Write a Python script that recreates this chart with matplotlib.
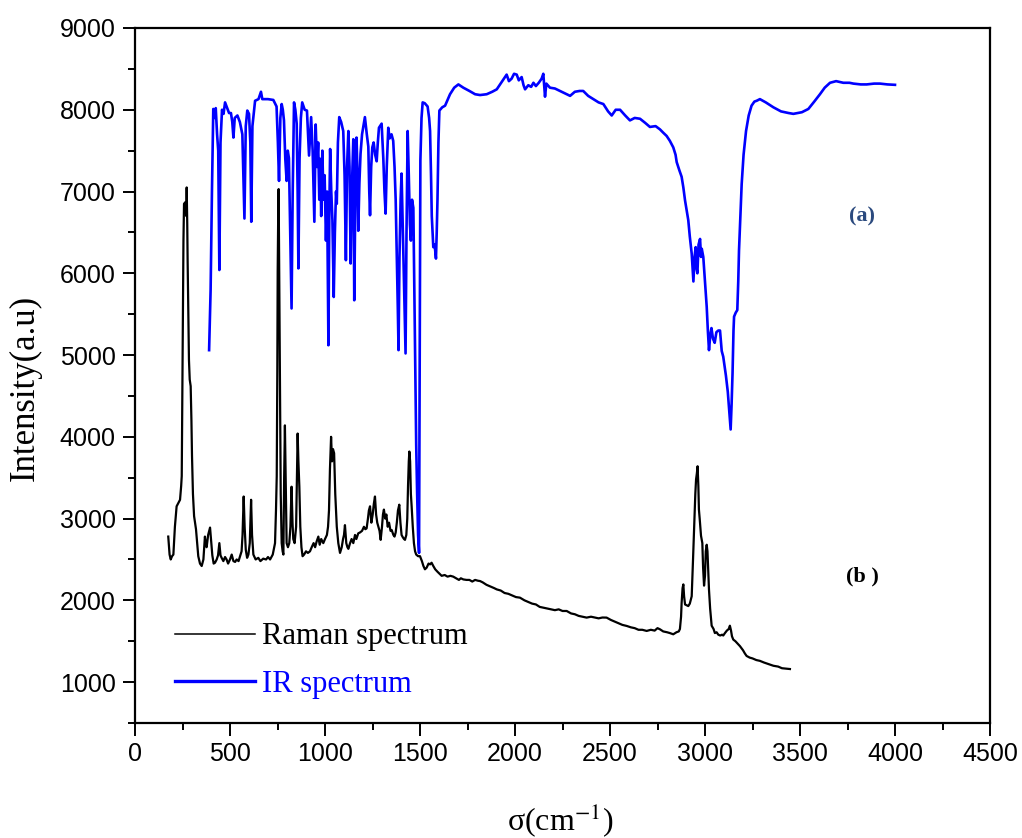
import matplotlib
matplotlib.use("Agg")
import matplotlib.pyplot as plt
from matplotlib.ticker import MultipleLocator

plt.rcParams['mathtext.fontset'] = 'stix'

# IR spectrum (a)
ir_x = [390, 398, 405, 412, 418, 425, 432, 438, 444, 450, 458, 466, 474, 485, 495, 505, 512, 518, 525, 539,
        552, 565, 576, 583, 591, 600, 607, 612, 618, 632, 650, 663, 670, 700, 728, 745, 752, 758, 765, 772,
        778, 784, 791, 798, 804, 810, 817, 824, 830, 837, 844, 851, 856, 860, 866, 873, 880, 893, 905, 911,
        916, 922, 927, 935, 940, 944, 948, 951, 958, 964, 970, 975, 980, 986, 992, 998, 1005, 1011, 1018, 1023,
        1027, 1033, 1039, 1046, 1052, 1058, 1062, 1068, 1075, 1085, 1096, 1103, 1110, 1116, 1123, 1129, 1135, 1141, 1149, 1154,
        1160, 1166, 1171, 1175, 1181, 1187, 1195, 1210, 1220, 1228, 1233, 1237, 1243, 1249, 1256, 1264, 1272, 1278, 1284, 1298,
        1303, 1307, 1313, 1319, 1325, 1333, 1340, 1350, 1359, 1366, 1372, 1378, 1383, 1387, 1392, 1398, 1403, 1410, 1417, 1424,
        1429, 1435, 1441, 1447, 1452, 1458, 1465, 1470, 1475, 1480, 1485, 1490, 1495, 1498, 1502, 1508, 1514, 1525, 1540, 1548,
        1553, 1558, 1562, 1570, 1577, 1584, 1588, 1592, 1597, 1602, 1617, 1632, 1645, 1658, 1680, 1702, 1728, 1760, 1790, 1816,
        1851, 1880, 1904, 1930, 1956, 1968, 1982, 1995, 2009, 2020, 2035, 2045, 2053, 2070, 2085, 2097, 2110, 2125, 2140, 2149,
        2155, 2158, 2165, 2184, 2210, 2237, 2265, 2290, 2315, 2340, 2359, 2385, 2412, 2440, 2465, 2490, 2509, 2530, 2553, 2580,
        2605, 2630, 2658, 2685, 2710, 2740, 2763, 2780, 2798, 2815, 2833, 2845, 2851, 2865, 2877, 2886, 2895, 2905, 2912, 2920,
        2930, 2935, 2939, 2945, 2951, 2956, 2960, 2966, 2974, 2979, 2983, 2991, 3000, 3009, 3015, 3021, 3028, 3034, 3042, 3051,
        3060, 3070, 3079, 3088, 3096, 3110, 3120, 3128, 3135, 3140, 3145, 3150, 3153, 3162, 3170, 3175, 3179, 3186, 3193, 3203,
        3216, 3230, 3245, 3260, 3272, 3289, 3320, 3360, 3400, 3440, 3465, 3510, 3544, 3575, 3605, 3630, 3658, 3690, 3728, 3760,
        3781, 3820, 3851, 3890, 3921, 3960, 4000]
ir_y = [5060, 5800, 7000, 8010, 7900, 8020, 7700, 7500, 6040, 7600, 8000, 7950, 8090, 8020, 7960, 7960, 7850, 7660, 7900, 7930,
        7850, 7700, 6670, 7800, 7990, 7950, 7600, 6630, 7800, 8110, 8130, 8220, 8130, 8130, 8120, 8040, 7600, 7130, 7900, 8070,
        8000, 7870, 7400, 7130, 7500, 7410, 6500, 5570, 7000, 8090, 8000, 7830, 7000, 6060, 7400, 7900, 8090, 8000, 7990, 7700,
        7440, 7700, 7910, 7500, 7000, 6630, 7300, 7820, 7300, 7600, 6900, 7400, 6700, 7500, 6900, 7200, 6400, 7000, 5120, 6800,
        7520, 7000, 6650, 5710, 6500, 7000, 6850, 7600, 7910, 7850, 7740, 7200, 6160, 7300, 7740, 7300, 6120, 7000, 7640, 5670,
        7000, 7660, 7200, 6520, 7100, 7460, 7700, 7910, 7700, 7550, 7000, 6710, 7300, 7540, 7600, 7450, 7370, 7600, 7780, 7830,
        7600, 7400, 7000, 6730, 7300, 7780, 7650, 7700, 7620, 7300, 6900, 6200, 5600, 5060, 6200, 6900, 7220, 6500, 5800, 5020,
        6500, 7740, 7200, 6600, 6400, 6900, 6800, 5800, 4800, 3900, 3300, 2800, 2580, 4500, 7380, 7900, 8090, 8080, 8040, 7900,
        7740, 7200, 6700, 6320, 6350, 6180, 6500, 6900, 7600, 7990, 8030, 8050, 8120, 8190, 8270, 8310, 8270, 8230, 8190, 8180,
        8190, 8220, 8250, 8340, 8430, 8350, 8380, 8440, 8430, 8360, 8400, 8300, 8250, 8300, 8280, 8330, 8290, 8330, 8380, 8440,
        8250, 8160, 8320, 8270, 8260, 8230, 8200, 8170, 8220, 8230, 8230, 8170, 8130, 8090, 8070, 7980, 7930, 8000, 8000, 7930,
        7870, 7900, 7890, 7840, 7790, 7800, 7760, 7720, 7680, 7620, 7540, 7450, 7360, 7260, 7180, 7050, 6890, 6750, 6650, 6450,
        6240, 6050, 5900, 6200, 6320, 6050, 6000, 6350, 6420, 6200, 6300, 6200, 5900, 5590, 5300, 5060, 5250, 5330, 5200, 5150,
        5280, 5300, 5300, 5050, 4980, 4750, 4550, 4300, 4090, 4400, 4780, 5300, 5470, 5520, 5550, 5900, 6280, 6700, 7090, 7450,
        7740, 7930, 8050, 8100, 8110, 8130, 8090, 8030, 7980, 7960, 7950, 7970, 8010, 8100, 8190, 8270, 8330, 8350, 8330, 8330,
        8320, 8310, 8310, 8320, 8320, 8310, 8305]

# Raman spectrum (b)
raman_x = [175, 182, 188, 195, 202, 210, 219, 230, 237, 243, 246, 251, 255, 258, 265, 270, 272, 275, 277, 281,
           284, 288, 293, 297, 300, 305, 311, 316, 321, 327, 333, 342, 351, 360, 368, 372, 377, 385, 395, 400,
           407, 414, 421, 430, 437, 444, 450, 456, 465, 474, 482, 490, 500, 509, 518, 527, 535, 545, 553, 561,
           566, 572, 577, 583, 590, 597, 604, 611, 616, 623, 635, 649, 660, 675, 690, 700, 711, 725, 737, 742,
           746, 749, 751, 754, 756, 759, 763, 767, 772, 777, 781, 785, 789, 793, 798, 805, 812, 818, 824, 829,
           833, 840, 848, 853, 856, 860, 865, 870, 876, 882, 890, 900, 910, 921, 930, 940, 948, 956, 965, 972,
           980, 991, 1000, 1010, 1016, 1021, 1026, 1032, 1037, 1042, 1048, 1054, 1062, 1070, 1079, 1088, 1095, 1100, 1105, 1112,
           1118, 1123, 1132, 1140, 1149, 1158, 1165, 1175, 1184, 1195, 1205, 1212, 1219, 1226, 1231, 1237, 1244, 1251, 1257, 1263,
           1269, 1275, 1281, 1287, 1293, 1300, 1305, 1310, 1317, 1323, 1330, 1337, 1345, 1351, 1360, 1366, 1372, 1378, 1384, 1391,
           1397, 1403, 1410, 1416, 1421, 1428, 1433, 1437, 1441, 1444, 1448, 1452, 1456, 1462, 1468, 1474, 1480, 1490, 1500, 1510,
           1518, 1526, 1535, 1545, 1553, 1561, 1570, 1580, 1592, 1605, 1614, 1630, 1645, 1660, 1675, 1690, 1705, 1715, 1728, 1745,
           1760, 1775, 1790, 1805, 1816, 1830, 1850, 1870, 1890, 1904, 1925, 1945, 1965, 1985, 2005, 2026, 2050, 2070, 2090, 2110,
           2130, 2149, 2170, 2190, 2210, 2230, 2250, 2272, 2295, 2315, 2335, 2355, 2377, 2400, 2420, 2440, 2460, 2482, 2505, 2525,
           2545, 2565, 2588, 2610, 2630, 2650, 2670, 2693, 2715, 2735, 2750, 2763, 2780, 2800, 2815, 2833, 2850, 2862, 2868, 2874,
           2877, 2882, 2886, 2890, 2895, 2903, 2912, 2920, 2930, 2937, 2944, 2949, 2953, 2957, 2961, 2965, 2968, 2972, 2979, 2986,
           2990, 2995, 3000, 3004, 3009, 3013, 3017, 3021, 3027, 3035, 3045, 3052, 3061, 3070, 3080, 3090, 3096, 3105, 3115, 3125,
           3131, 3137, 3142, 3149, 3160, 3172, 3184, 3200, 3210, 3219, 3235, 3250, 3270, 3289, 3310, 3335, 3360, 3385, 3405, 3425,
           3447]
raman_y = [2780, 2560, 2500, 2540, 2560, 2900, 3150, 3200, 3230, 3400, 3520, 5220, 6400, 6850, 6870, 6700, 7050, 6600, 6150, 5500,
           4940, 4700, 4620, 4200, 3770, 3300, 3030, 2950, 2870, 2700, 2540, 2450, 2420, 2500, 2780, 2700, 2650, 2800, 2890, 2750,
           2550, 2450, 2460, 2500, 2550, 2700, 2550, 2520, 2480, 2530, 2500, 2450, 2500, 2560, 2480, 2470, 2500, 2480, 2540, 2600,
           2800, 3270, 2900, 2620, 2520, 2560, 2700, 3230, 2800, 2560, 2500, 2520, 2480, 2510, 2500, 2530, 2500, 2560, 2700, 3100,
           3520, 4800, 6030, 6800, 7030, 6000, 4450, 3300, 2700, 2600, 2560, 3500, 4140, 3500, 2700, 2650, 2700, 2900, 3390, 2950,
           2750, 2700, 2900, 3600, 4040, 3700, 3390, 2900, 2650, 2540, 2560, 2600, 2580, 2600, 2650, 2700, 2650, 2720, 2780, 2680,
           2750, 2700, 2750, 2800, 2900, 3100, 3600, 4000, 3700, 3850, 3800, 3300, 2900, 2700, 2580, 2650, 2750, 2800, 2920, 2700,
           2650, 2630, 2700, 2750, 2700, 2800, 2750, 2820, 2830, 2850, 2900, 2870, 2880, 3000, 3100, 3150, 2950, 3050, 3180, 3270,
           3050, 2950, 2900, 2850, 2740, 2900, 3050, 3110, 3000, 3050, 2900, 2950, 2850, 2860, 2800, 2780, 2830, 2950, 3100, 3170,
           2950, 2800, 2770, 2750, 2740, 2800, 3000, 3400, 3700, 3820, 3700, 3300, 3150, 2900, 2700, 2600, 2560, 2540, 2540, 2480,
           2420, 2380, 2400, 2450, 2440, 2460, 2420, 2380, 2350, 2320, 2300, 2310, 2290, 2300, 2290, 2270, 2250, 2270, 2256, 2250,
           2250, 2230, 2250, 2240, 2236, 2220, 2190, 2170, 2150, 2134, 2120, 2090, 2080, 2060, 2040, 2033, 2000, 1980, 1960, 1950,
           1920, 1911, 1900, 1890, 1880, 1890, 1870, 1870, 1840, 1830, 1810, 1800, 1789, 1800, 1790, 1780, 1790, 1789, 1760, 1740,
           1720, 1700, 1687, 1670, 1660, 1640, 1640, 1626, 1640, 1630, 1660, 1646, 1620, 1610, 1600, 1585, 1610, 1620, 1650, 1800,
           1970, 2150, 2195, 2050, 1950, 1940, 1930, 1960, 2050, 2500, 2990, 3300, 3480, 3550, 3640, 3400, 3110, 3000, 2790, 2700,
           2400, 2180, 2300, 2600, 2680, 2600, 2350, 2130, 1900, 1690, 1650, 1600, 1610, 1580, 1570, 1580, 1570, 1600, 1630, 1650,
           1690, 1630, 1560, 1520, 1500, 1470, 1440, 1390, 1350, 1320, 1300, 1290, 1270, 1260, 1240, 1220, 1200, 1190, 1170, 1165,
           1160]

fig = plt.figure(figsize=(10.22, 8.38), dpi=100)
ax = fig.add_axes([135/1022, 115/838, 855/1022, 695/838])

l1, = ax.plot(raman_x, raman_y, color='black', lw=1.6, label='Raman spectrum')
l2, = ax.plot(ir_x, ir_y, color='#0000ff', lw=1.9, label='IR spectrum')

ax.set_xlim(0, 4500)
ax.set_ylim(500, 9000)
ax.xaxis.set_major_locator(MultipleLocator(500))
ax.xaxis.set_minor_locator(MultipleLocator(250))
ax.yaxis.set_major_locator(MultipleLocator(1000))
ax.yaxis.set_minor_locator(MultipleLocator(500))
ax.set_yticks(range(1000, 9001, 1000))
ax.tick_params(which='major', direction='out', length=9, width=1.4, pad=5, labelsize=18)
ax.tick_params(which='minor', direction='out', length=5, width=1.4)
for lab in ax.get_xticklabels() + ax.get_yticklabels():
    lab.set_family('Liberation Sans')
for s in ax.spines.values():
    s.set_linewidth(1.6)

leg = ax.legend(handles=[l1, l2], loc='center left', bbox_to_anchor=(0.047, 0.09),
                frameon=False, prop={'family': 'Liberation Serif', 'size': 22},
                handlelength=2.6, handletextpad=0.25, labelspacing=0.6,
                borderpad=0, borderaxespad=0)
leg.get_lines()[0].set_linewidth(1.1)
leg.get_lines()[1].set_linewidth(2.4)
leg.get_texts()[1].set_color('#0000ff')

ax.text(3826, 6689, '(a)', color='#2b4a7e', fontsize=16, fontweight='bold',
        family='Liberation Serif', ha='center', va='center')
ax.text(3826, 2286, '(b )', color='black', fontsize=16, fontweight='bold',
        family='Liberation Serif', ha='center', va='center')

fig.text(25/1022, 1 - 388/838, 'Intensity(a.u)', rotation=90, ha='center', va='center',
         family='Liberation Serif', fontsize=25)
fig.text(560/1022, 1 - 820/838, 'σ(cm$^{-1}$)', ha='center', va='center',
         family='Liberation Serif', fontsize=23)

fig.savefig('out.png', dpi=100)
